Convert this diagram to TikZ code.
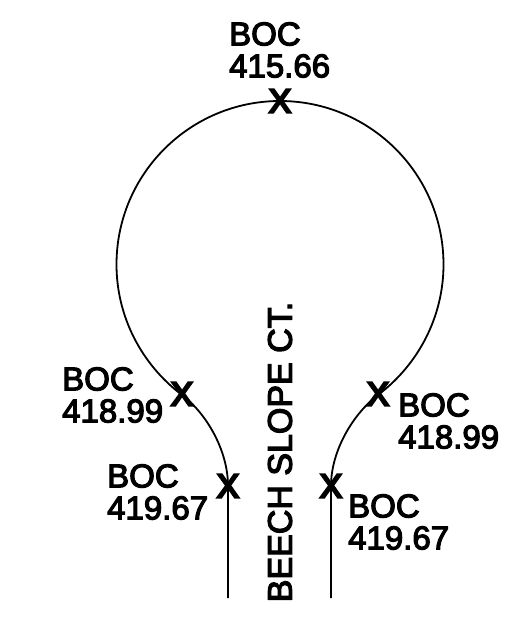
\documentclass[tikz,border=0pt]{standalone}
\usepackage{fontspec}
\setmainfont{Liberation Sans}[FakeBold=3.5]
\newfontfamily\markfont{Liberation Sans}[FakeBold=7]
\begin{document}
\begin{tikzpicture}[x=1pt,y=-1pt,
  lbl/.style={font=\fontsize{33}{32}\selectfont,align=left,inner sep=0pt,anchor=west},
  xm/.style={font=\markfont\fontsize{33}{33}\selectfont,inner sep=0pt},
  road/.style={line width=1.8pt,black}]
\useasboundingbox (0,0) rectangle (520,623);
\coordinate (bl) at (228,598);
\coordinate (br) at (331,598);
\node[xm] (xt) at (280,101) {X};
\node[xm] (xl) at (182,394) {X};
\node[xm] (xr) at (378,394) {X};
\node[xm] (xbl) at (228,486) {X};
\node[xm] (xbr) at (331,486) {X};
\draw[road] (bl) -- (228,486) .. controls (228,450) and (206,413) .. (182,395)
  .. controls (141,364) and (116.5,316) .. (116.5,264.5)
  .. controls (116.5,174) and (190,101) .. (280,101)
  .. controls (370,101) and (443.5,174) .. (443.5,264.5)
  .. controls (443.5,316) and (419,364) .. (378,395)
  .. controls (354,413) and (331,450) .. (331,486) -- (br);
\node[lbl] (a) at (229,50) {BOC\\415.66};
\node[lbl] (b) at (62,395) {BOC\\418.99};
\node[lbl] (c) at (398,421) {BOC\\418.99};
\node[lbl] (d) at (107,492) {BOC\\419.67};
\node[lbl] (e) at (348,522) {BOC\\419.67};
\node[font=\fontsize{34}{34}\selectfont,rotate=90,inner sep=0pt] (s) at (280,452) {BEECH SLOPE CT.};
\end{tikzpicture}
\end{document}
